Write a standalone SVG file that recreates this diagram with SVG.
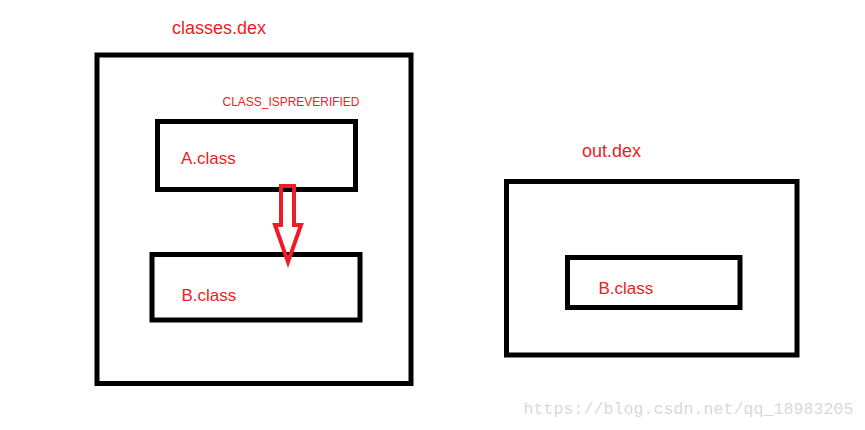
<svg xmlns="http://www.w3.org/2000/svg" width="865" height="430" viewBox="0 0 865 430">
<style>
.box{fill:none;stroke:#000;stroke-width:5}
.lbl{fill:#ee1c25;font-family:"Liberation Sans",Arial,sans-serif;font-size:17px}
.title{fill:#ee1c25;font-family:"Liberation Sans",Arial,sans-serif;font-size:18px}
.small{fill:#ee1c25;font-family:"Liberation Sans",Arial,sans-serif;font-size:12px}
.wm{fill:#d9d9d9;font-family:"Liberation Mono","DejaVu Sans Mono",monospace;font-size:16.5px}
</style>
<rect width="865" height="430" fill="#fff"/>
<g id="classes-dex">
<rect class="box" x="97" y="55" width="314" height="328.5"/>
<text class="title" x="172" y="34">classes.dex</text>
</g>
<g id="a-class">
<rect class="box" x="157.5" y="121.5" width="198" height="68"/>
<text class="lbl" x="181" y="163.5">A.class</text>
</g>
<g id="b-class-left">
<rect class="box" x="152" y="254.5" width="208" height="65.5"/>
<text class="lbl" x="181.5" y="300.5">B.class</text>
</g>
<g id="out-dex">
<rect class="box" x="506.5" y="181.5" width="290.5" height="173.5"/>
<text class="title" x="582" y="157">out.dex</text>
</g>
<g id="b-class-right">
<rect class="box" x="567.5" y="257.5" width="172.5" height="50"/>
<text class="lbl" x="598.5" y="294">B.class</text>
</g>
<g id="label">
<text class="small" x="222.5" y="106" textLength="137">CLASS_ISPREVERIFIED</text>
</g>
<g id="connectors">
<polygon points="281,186 294,186 294,225 301,225 288,262 275,225 281,225" fill="none" stroke="#ee1c25" stroke-width="4" stroke-linejoin="miter"/>
</g>
<text class="wm" x="523.5" y="413.5" textLength="330">https://blog.csdn.net/qq_18983205</text>
</svg>
